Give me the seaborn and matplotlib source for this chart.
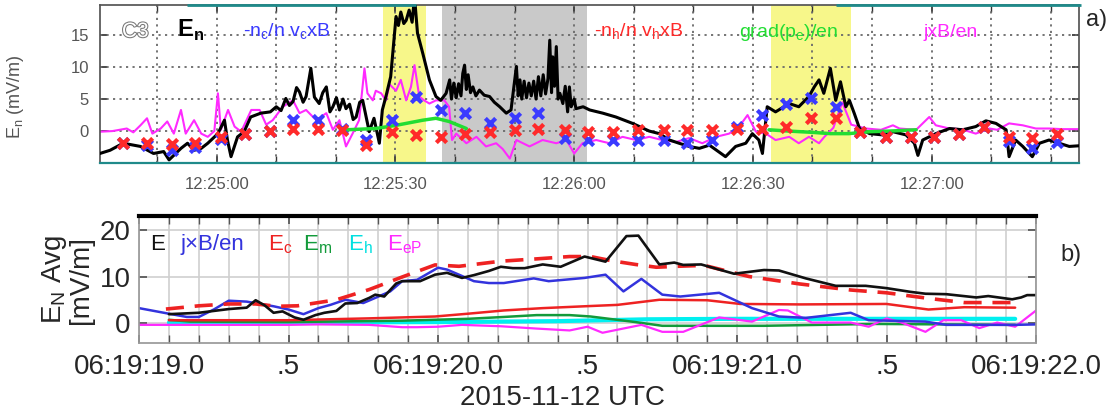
import numpy as np
import pandas as pd
import matplotlib.pyplot as plt
import matplotlib.patheffects as pe
from matplotlib.ticker import MultipleLocator
import seaborn as sns

sns.set_theme(style="white")
plt.rcParams["font.family"] = ["Liberation Sans", "DejaVu Sans"]

# ---------------- panel a) : seconds after 12:24:00 ----------------
t_en = [40.4, 42.1, 44.3, 47.2, 49.4, 51.1, 52.0, 54.0, 55.1, 56.2, 57.4, 58.5, 60.2, 61.3, 61.8,
        62.4, 63.5, 64.6, 65.7, 67.4, 69.0, 70.0, 70.8, 71.6, 72.2, 72.8, 73.4, 73.9, 74.5, 75.0,
        75.8, 76.4, 77.2, 77.8, 78.4, 79.0, 79.5, 80.1, 80.6, 81.2, 81.7, 82.3, 82.9, 83.4, 84.0,
        84.5, 85.6, 86.4, 87.3, 87.8, 88.4, 89.2, 90.1, 90.5, 90.9, 91.4, 91.8, 92.3, 92.8, 93.2,
        93.7, 94.6, 95.7, 96.8, 97.6, 98.5, 99.1, 99.4, 99.8, 100.2, 100.6, 101.0, 101.3, 101.6,
        101.9, 102.2, 102.6, 103.0, 103.5, 104.1, 104.9, 105.8, 106.6, 107.5, 108.6, 109.4, 110.3,
        110.6, 110.9, 111.2, 111.6, 112.0, 112.4, 112.8, 113.2, 113.6, 114.0, 114.4, 114.8, 115.2,
        115.6, 115.9, 116.2, 116.4, 116.7, 117.0, 117.3, 117.6, 118.1, 118.5, 118.9, 119.2, 119.5,
        120.0, 120.3, 121.5, 122.6, 124.8, 127.0, 129.8, 132.6, 134.3, 136.0, 137.6, 139.3, 141.0,
        142.7, 145.4, 147.1, 148.8, 149.9, 151.0, 151.6, 152.4, 153.8, 156.1, 157.7, 159.4, 160.3,
        161.1, 161.9, 163.0, 163.9, 164.7, 165.6, 166.2, 167.0, 167.9, 169.6, 171.8, 173.5, 175.7,
        177.1, 177.7, 178.5, 180.7, 183.0, 185.2, 187.4, 189.1, 190.8, 192.5, 193.0, 194.1, 195.3,
        196.9, 198.1, 199.7, 201.4, 203.1, 204.7]
v_en = [-3.5, -3.0, -1.9, -2.4, -3.5, -3.2, -4.5, -2.7, -1.9, -3.0, -2.7, -1.9, -0.4, 1.7, -1.4,
        -4.0, -0.9, -0.1, 2.2, 2.8, 3.0, 3.8, 3.2, 5.1, 4.0, 4.6, 6.8, 6.1, 4.5, 5.4,
        9.8, 5.3, 4.3, 6.0, 6.9, 3.0, 3.8, 5.2, 3.3, 5.0, 3.5, 4.2, 1.8, 2.2, 4.5,
        4.8, -0.1, 2.0, -1.9, 3.3, 5.4, 8.5, 17.9, 16.5, 18.6, 16.8, 17.3, 18.9, 17.0, 21.0,
        15.3, 12.1, 8.0, 5.4, 4.8, 5.9, 8.0, 5.0, 7.5, 5.2, 7.4, 5.5, 9.0, 10.3,
        6.5, 8.8, 6.0, 6.9, 5.5, 6.4, 5.6, 5.4, 4.5, 3.8, 2.8, 3.3, 10.1,
        5.5, 8.0, 5.0, 7.8, 5.2, 7.5, 5.5, 7.8, 5.0, 8.5, 5.5, 8.8, 5.8,
        8.2, 14.2, 6.0, 11.6, 7.0, 13.2, 5.0, 5.9, 4.3, 7.0, 3.0, 6.9, 3.8,
        5.0, 3.5, 3.8, 3.3, 2.8, 2.2, 1.2, 0.0, -0.4, -1.4, -1.9, -2.4, -2.7,
        -2.2, -4.0, -2.4, -1.9, -0.4, -1.4, -3.5, 3.8, 3.0, 4.3, 3.8, 5.4, 6.9,
        8.0, 5.9, 9.8, 4.8, 7.7, 3.8, 4.8, 2.8, 0.4, -0.4, -0.6, -0.1, -0.6,
        -1.9, -3.8, -1.4, -0.4, 0.4, 0.2, 0.7, 1.6, 1.2, 0.2, -4.0, -1.4, -2.4,
        -4.0, -1.9, -1.4, -1.9, -2.4, -2.3]

t_jxb = [40.4, 42.5, 44.9, 46.0, 47.2, 48.3, 49.2, 50.6, 51.7, 52.8, 54.0, 54.8, 56.2, 57.4, 58.5,
         59.6, 60.2, 60.7, 61.9, 63.0, 64.1, 65.8, 67.2, 68.3, 69.4, 71.1, 72.8, 73.9, 75.0, 76.7,
         78.4, 79.5, 80.6, 81.7, 82.8, 83.9, 84.8, 85.3, 86.2, 86.7, 87.6, 88.4, 89.0, 90.1, 90.9,
         91.8, 92.6, 93.2, 94.0, 94.8, 95.7, 96.8, 98.2, 99.0, 99.5, 100.2, 101.9, 103.6, 105.2,
         106.9, 108.0, 109.2, 110.3, 112.5, 114.7, 117.0, 118.7, 120.0, 121.4, 123.7, 125.9, 128.1,
         130.4, 132.6, 134.8, 137.1, 139.3, 141.5, 143.8, 146.0, 147.7, 149.1, 150.5, 152.2, 153.8,
         156.1, 157.7, 159.4, 161.1, 162.0, 163.5, 165.0, 166.5, 169.0, 171.5, 173.5, 174.6, 177.4,
         179.6, 180.7, 183.0, 185.0, 187.4, 189.7, 191.0, 193.0, 195.3, 197.5, 199.7, 202.0, 204.7]
v_jxb = [-0.1, 0.0, 0.4, -0.2, 0.9, 2.0, -0.4, 0.4, 1.5, -0.4, 3.3, -0.4, 1.7, -0.4, -0.9,
         0.0, 5.9, 0.2, 3.3, 0.7, -0.1, 3.3, 3.3, 1.0, 1.7, 3.8, 4.8, 2.8, 3.3, 1.7,
         2.8, 0.2, 1.7, -2.4, -0.4, 1.7, 9.8, 5.9, 4.8, 6.3, 5.9, 4.8, 7.3, 6.3, 8.0,
         4.8, 6.9, 10.3, 5.4, 4.8, 4.3, 4.8, 4.8, 3.8, -1.4, -0.4, -1.9, -0.9, -2.4,
         -1.9, -2.8, -4.3, -1.4, -2.4, -1.4, -1.9, -1.4, -3.5, -1.9, -1.4, -1.9, -0.9,
         -1.4, -0.9, -1.4, -1.7, -1.1, -1.9, -0.9, -0.4, 0.7, 2.5, -0.1, -0.4, -1.4,
         -0.9, -1.9, -0.9, -1.9, -0.9, 0.5, 4.5, 1.0, 0.4, 0.2, 0.9, 0.4, 0.2,
         2.2, 0.9, 0.4, 0.3, -0.4, 0.4, 0.2, 1.2, 0.9, 0.4, 0.4, 0.3, 0.3]

t_grad1 = [81.7, 86.7, 90.1, 91.8, 94.6, 96.8, 99.0, 101.9]
v_grad1 = [0.2, 0.4, 0.9, 1.2, 1.7, 2.0, 1.5, 0.4]
t_grad2 = [152.7, 156.0, 160.0, 163.0, 166.1, 169.6, 173.0, 177.4]
v_grad2 = [0.2, 0.0, -0.2, -0.4, -0.4, -0.1, 0.0, 0.2]

t_mark = [44.2, 48.3, 52.5, 56.3, 60.8, 64.7, 68.9, 72.8, 77.0, 81.1, 85.1, 89.5, 93.4, 97.6,
          101.6, 105.8, 110.0, 113.9, 118.4, 122.3, 126.5, 130.7, 135.1, 139.0, 143.2, 147.4,
          151.6, 155.5, 159.7, 163.9, 167.9, 172.3, 176.5, 180.4, 184.6, 188.8, 193.0, 196.9, 201.1]
v_cold = [-1.9, -2.2, -3.0, -2.5, -1.2, -0.5, 0.0, 1.7, 1.7, 0.3, -1.4, 1.7, 5.4, 3.3,
          2.8, 1.2, 2.0, 2.8, -1.1, -1.4, -1.4, -1.4, -1.4, -1.9, -1.4, 0.7,
          2.5, 4.3, 5.1, 3.8, -0.2, -1.0, -1.0, -1.0, -0.4, 0.6, -1.5, -2.7, -1.7]
v_hot = [-1.9, -1.9, -2.0, -1.9, -1.0, -0.4, 0.0, 0.4, 0.4, 0.2, -2.2, -0.1, -0.6, -0.9,
         -0.4, -0.1, 0.2, 0.4, 0.2, -0.1, -0.1, 0.2, 0.2, 0.2, 0.2, 0.4,
         0.4, 0.7, 2.0, 2.0, -0.1, -0.9, -0.9, -0.9, -0.4, 0.7, -0.9, -1.1, -0.4]

yellow_spans = [(87.9, 95.2), (153.0, 166.4)]
gray_span = (97.8, 122.1)
teal_top = [(55.0, 93.5), (164.0, 205.0)]
top_ticks = [60, 90, 120, 150, 180]
top_labels = ["12:25:00", "12:25:30", "12:26:00", "12:26:30", "12:27:00"]

# ---------------- panel b) : seconds after 06:19:19.0 ----------------
t_E = [0.10, 0.20, 0.30, 0.36, 0.39, 0.42, 0.45, 0.48, 0.52, 0.55, 0.59, 0.62, 0.66, 0.69, 0.73,
       0.77, 0.79, 0.82, 0.86, 0.88, 0.94, 0.99, 1.03, 1.08, 1.12, 1.17, 1.21, 1.25, 1.29, 1.35,
       1.41, 1.49, 1.56, 1.63, 1.67, 1.74, 1.79, 1.82, 1.88, 1.99, 2.09, 2.14, 2.23, 2.33, 2.43,
       2.50, 2.58, 2.63, 2.70, 2.80, 2.84, 2.92, 2.95, 2.97, 3.00]
v_E = [1.9, 2.2, 3.0, 3.3, 4.9, 3.8, 2.2, 2.5, 1.2, 0.7, 1.7, 2.2, 2.6, 4.2, 4.3,
       5.4, 6.1, 5.7, 8.5, 9.0, 9.0, 10.4, 10.8, 9.7, 10.3, 11.2, 12.1, 11.8, 11.8, 12.6,
       12.1, 14.3, 13.2, 18.7, 18.8, 12.6, 13.0, 12.5, 12.6, 10.6, 11.4, 11.3, 9.6, 8.0, 8.0,
       7.5, 6.7, 6.3, 6.2, 5.5, 5.8, 5.1, 5.5, 6.0, 6.0]

t_J = [0.0, 0.1, 0.16, 0.2, 0.25, 0.3, 0.36, 0.45, 0.5, 0.55, 0.6, 0.64, 0.69, 0.75, 0.79, 0.84,
       0.88, 0.93, 1.0, 1.03, 1.07, 1.12, 1.17, 1.22, 1.32, 1.37, 1.49, 1.56, 1.62, 1.68, 1.75,
       1.81, 1.94, 2.05, 2.14, 2.23, 2.38, 2.44, 2.63, 2.70, 2.93, 3.0]
v_J = [3.2, 2.0, 1.3, 1.3, 2.9, 4.8, 4.6, 3.6, 2.9, 1.9, 3.2, 3.9, 5.0, 4.3, 5.4, 6.8,
       9.0, 9.3, 11.9, 11.5, 10.4, 9.0, 8.6, 8.6, 9.6, 9.0, 9.7, 10.4, 6.8, 9.5, 6.1,
       5.7, 6.5, 3.2, 1.4, 1.1, 2.2, 0.6, 0.3, -0.4, -0.4, -0.3]

t_sum = [0.09, 0.2, 0.3, 0.39, 0.46, 0.53, 0.66, 0.77, 0.88, 0.99, 1.07, 1.21, 1.33, 1.44, 1.51,
         1.58, 1.66, 1.73, 1.80, 1.89, 2.04, 2.21, 2.38, 2.50, 2.64, 2.76, 2.93]
v_sum = [3.0, 3.7, 4.1, 4.1, 3.6, 3.7, 5.0, 7.2, 9.9, 12.5, 12.2, 13.3, 13.8, 14.3, 14.3,
         13.4, 12.6, 12.0, 12.2, 12.4, 10.0, 8.4, 7.1, 6.5, 5.3, 4.4, 4.4]

t_Ec = [0.1, 0.5, 0.77, 0.99, 1.1, 1.22, 1.35, 1.49, 1.6, 1.74, 1.9, 2.01, 2.21, 2.5, 2.64, 2.76, 2.93]
v_Ec = [0.6, 0.6, 1.0, 1.4, 2.0, 2.7, 3.2, 3.6, 3.9, 5.0, 4.9, 4.1, 4.0, 4.1, 2.9, 3.4, 3.3]

t_Em = [0.1, 0.17, 0.5, 0.88, 1.1, 1.22, 1.33, 1.44, 1.51, 1.66, 1.75, 2.09, 2.46, 2.93]
v_Em = [0.7, 0.3, 0.2, 0.5, 0.9, 1.3, 1.7, 1.7, 1.4, 0.2, -0.6, -0.6, -0.2, -0.4]

t_Eh = [0.1, 0.5, 1.0, 1.4, 1.7, 2.0, 2.5, 2.93]
v_Eh = [0.1, 0.1, 0.2, 0.4, 0.8, 0.9, 0.9, 0.9]

t_EeP = [0.0, 0.5, 0.6, 0.77, 0.88, 0.93, 1.0, 1.08, 1.21, 1.33, 1.44, 1.5, 1.55, 1.68, 1.75,
         1.82, 1.94, 2.05, 2.14, 2.17, 2.25, 2.38, 2.44, 2.5, 2.55, 2.63, 2.69, 2.75, 2.81,
         2.87, 2.93, 3.0]
v_EeP = [-0.4, -0.4, -0.3, -0.4, -0.9, -0.9, -0.8, -0.4, -0.7, -1.2, -1.6, -0.8, -2.1, -0.4, -1.9,
         -1.9, 1.2, 0.3, 2.8, 2.7, 0.1, 0.1, -0.8, 1.0, 0.1, -1.9, 0.6, 0.6, -1.1,
         0.1, -0.8, 2.7]

bot_ticks = [0.0, 0.5, 1.0, 1.5, 2.0, 2.5, 3.0]
bot_labels = ["06:19:19.0", ".5", "06:19:20.0", ".5", "06:19:21.0", ".5", "06:19:22.0"]

BLUE_A, RED_A, GREEN_A, MAG_A = "#3a3aff", "#ff2a2a", "#22dd33", "#ff2aff"

fig = plt.figure(figsize=(11.13, 4.16), dpi=100)
ax1 = fig.add_axes([0.0898, 0.608, 0.880, 0.380])
ax2 = fig.add_axes([0.1249, 0.1755, 0.806, 0.305])

# ---- panel a
ax1.set_xlim(40.4, 204.8)
ax1.set_ylim(-5, 19.7)
ax1.set_xticks(top_ticks, top_labels)
ax1.xaxis.set_minor_locator(MultipleLocator(10))
ax1.set_yticks([0, 5, 10, 15])

for a, b in yellow_spans:
    ax1.axvspan(a, b, color="#f7f78a", lw=0, zorder=0)
ax1.axvspan(*gray_span, color="#c9c9c9", lw=0, zorder=0)

# dotted grid, drawn from the axis' own tick locations
grid_kw = dict(ls=(0, (1.2, 2.4)), color="#6a6a6a", lw=1.3, zorder=1)
for xv in list(ax1.xaxis.get_minorticklocs()) + list(ax1.get_xticks()):
    ax1.axvline(xv, **grid_kw)
for yv in ax1.get_yticks():
    ax1.axhline(yv, **grid_kw)

sns.lineplot(x=t_en, y=v_en, ax=ax1, color="black", lw=2.2, sort=False, errorbar=None, zorder=3)
sns.lineplot(x=t_jxb, y=v_jxb, ax=ax1, color=MAG_A, lw=1.5, sort=False, errorbar=None, zorder=2)
sns.lineplot(x=t_grad1, y=v_grad1, ax=ax1, color=GREEN_A, lw=2.5, errorbar=None, zorder=4)
sns.lineplot(x=t_grad2, y=v_grad2, ax=ax1, color=GREEN_A, lw=2.5, errorbar=None, zorder=4)
sns.scatterplot(x=t_mark, y=v_cold, ax=ax1, marker="x", s=55, linewidth=3, color=BLUE_A, zorder=5)
sns.scatterplot(x=t_mark, y=v_hot, ax=ax1, marker="x", s=55, linewidth=3, color=RED_A, zorder=6)

ax1.set_xlim(40.4, 204.8)
ax1.set_ylim(-5, 19.7)
ax1.tick_params(axis="x", which="both", direction="in", top=True, bottom=True, length=5,
                color="#333333", labelcolor="#555555", labelsize=12, pad=10)
ax1.tick_params(axis="y", direction="in", left=True, right=True, length=5,
                color="#333333", labelcolor="#555555", labelsize=12, pad=8)
for s in ["left", "right", "top"]:
    ax1.spines[s].set_color("#555555")
ax1.spines["bottom"].set_color("#1f8a8a")
ax1.spines["bottom"].set_linewidth(1.6)
for a, b in teal_top:
    ax1.hlines(1.0, a, b, transform=ax1.get_xaxis_transform(), color="#1f8a8a", lw=2, zorder=7,
               clip_on=False)
ax1.set_ylabel("E$_\\mathregular{n}$ (mV/m)", fontsize=13, color="#555555")
ax1.yaxis.set_label_coords(-0.075, 0.42)

ax1.text(44.1, 14.7, "C3", fontsize=15, color="white", va="baseline",
         path_effects=[pe.withStroke(linewidth=1.5, foreground="#777777")])
ax1.text(53.4, 14.7, "E$_\\mathregular{n}$", fontsize=17, fontweight="bold", color="black", va="baseline")
ax1.text(64.4, 14.7, "-n$_\\mathregular{c}$/n v$_\\mathregular{c}$xB", fontsize=14, color=BLUE_A, va="baseline")
ax1.text(123.4, 14.7, "-n$_\\mathregular{h}$/n v$_\\mathregular{h}$xB", fontsize=14, color=RED_A, va="baseline")
ax1.text(147.6, 14.7, "grad(p$_\\mathregular{e}$)/en", fontsize=14, color=GREEN_A, va="baseline")
ax1.text(178.6, 14.7, "jxB/en", fontsize=14, color=MAG_A, va="baseline")
fig.text(0.976, 0.953, "a)", fontsize=17, ha="left", va="center")

# ---- panel b
ax2.set_xlim(0, 3.0)
ax2.set_ylim(-4.3, 23)
ax2.set_xticks(bot_ticks, bot_labels)
ax2.xaxis.set_minor_locator(MultipleLocator(0.1))
ax2.set_yticks([0, 10, 20])
for xv in list(ax2.xaxis.get_minorticklocs()) + list(ax2.get_xticks()):
    ax2.axvline(xv, color="#cfcfcf", lw=1.2, zorder=0.5)
for yv in ax2.get_yticks():
    ax2.axhline(yv, color="#cfcfcf", lw=1.2, zorder=0.5)

sns.lineplot(x=t_Eh, y=v_Eh, ax=ax2, color="#00f0f0", lw=3, errorbar=None)
sns.lineplot(x=t_Em, y=v_Em, ax=ax2, color="#129a3a", lw=1.8, errorbar=None)
sns.lineplot(x=t_EeP, y=v_EeP, ax=ax2, color="#ff2aff", lw=1.6, errorbar=None)
sns.lineplot(x=t_Ec, y=v_Ec, ax=ax2, color="#ee2222", lw=1.8, errorbar=None)
sns.lineplot(x=t_J, y=v_J, ax=ax2, color="#3333dd", lw=1.8, errorbar=None)
sns.lineplot(x=t_sum, y=v_sum, ax=ax2, color="#ee2222", lw=2.6, dashes=False, errorbar=None,
             linestyle=(0, (5, 3)))
sns.lineplot(x=t_E, y=v_E, ax=ax2, color="#111111", lw=1.9, errorbar=None)

ax2.set_xlim(0, 3.0)
ax2.set_ylim(-4.3, 23)
ax2.tick_params(axis="x", which="both", direction="in", top=True, bottom=True, length=6,
                color="#555555", labelsize=20, pad=8)
ax2.tick_params(axis="y", direction="in", left=True, right=True, length=6,
                color="#555555", labelsize=20, pad=6)
for s in ["left", "right", "bottom"]:
    ax2.spines[s].set_color("#999999")
ax2.spines["top"].set_color("black")
ax2.spines["top"].set_linewidth(3)
ax2.set_ylabel("E$_\\mathregular{N}$ Avg\n[mV/m]", fontsize=20, linespacing=0.95)
ax2.set_xlabel("2015-11-12 UTC", fontsize=20, labelpad=1)
ax2.xaxis.set_label_coords(0.472, -0.33)

ax2.text(0.036, 15.7, "E", fontsize=16, color="#111111", va="baseline")
ax2.text(0.14, 15.7, "j\u00d7B/en", fontsize=16, color="#3333dd", va="baseline")
ax2.text(0.43, 15.7, "E$_\\mathregular{c}$", fontsize=16, color="#ee2222", va="baseline")
ax2.text(0.55, 15.7, "E$_\\mathregular{m}$", fontsize=16, color="#129a3a", va="baseline")
ax2.text(0.70, 15.7, "E$_\\mathregular{h}$", fontsize=16, color="#00e0e0", va="baseline")
ax2.text(0.83, 15.7, "E$_\\mathregular{eP}$", fontsize=16, color="#ff2aff", va="baseline")
fig.text(0.953, 0.388, "b)", fontsize=17, ha="left", va="center")

fig.savefig("out.png", dpi=100)
